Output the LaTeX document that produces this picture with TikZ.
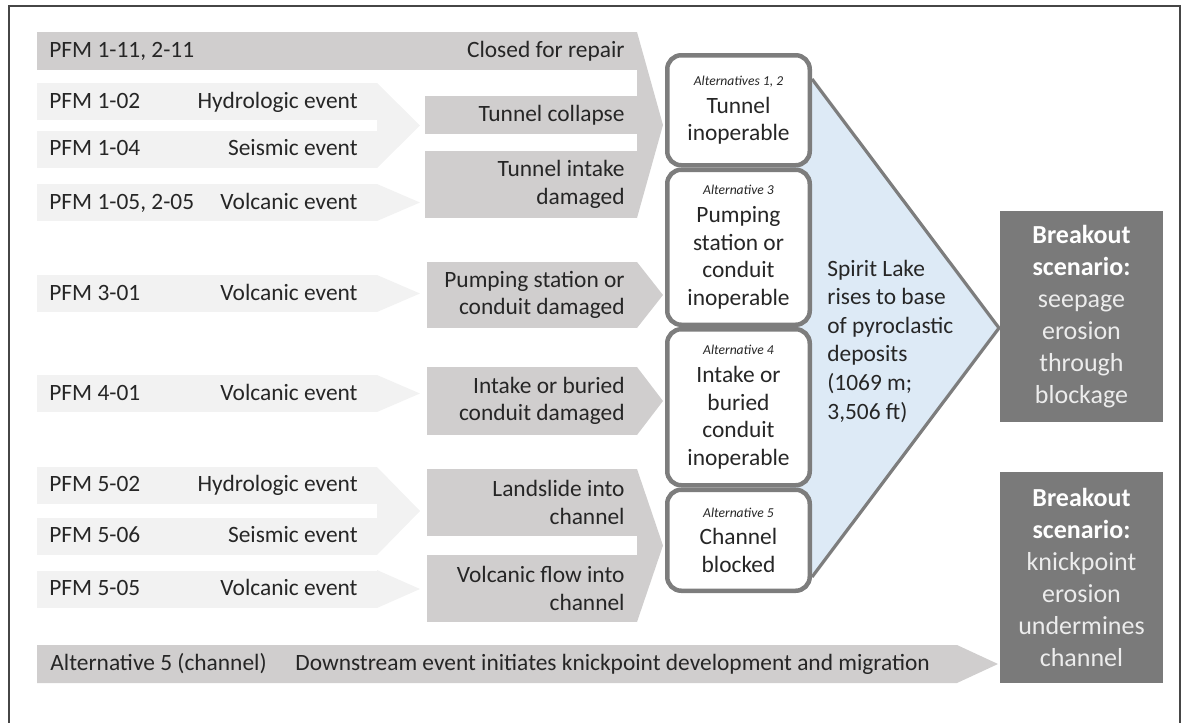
\documentclass[tikz,border=0pt]{standalone}
\usepackage{fontspec}
\setmainfont{Carlito}
\usepackage{tikz}
\usetikzlibrary{positioning}

\definecolor{palefill}{RGB}{242,242,242}
\definecolor{barfill}{RGB}{208,206,206}
\definecolor{boxedge}{RGB}{125,125,125}
\definecolor{lakefill}{RGB}{221,234,246}
\definecolor{outfill}{RGB}{122,122,122}
\definecolor{outtext}{RGB}{236,236,236}
\definecolor{framegray}{RGB}{70,70,70}

\newcommand{\altname}[1]{{\fontsize{6.8}{8}\selectfont\itshape #1}}
\newcommand{\outhead}[1]{{\bfseries\color{white}#1}}

\tikzset{
  lbl/.style={inner sep=0pt, text=black!85, font=\fontsize{11.7}{13.8}\selectfont},
  rowlbl/.style={lbl, text height=8pt, text depth=1.5pt},
  altbox/.style={lbl, draw=boxedge, line width=2.25pt, rounded corners=7pt, fill=white, minimum width=71.25pt, align=center},
  outbox/.style={fill=outfill, text=outtext, inner sep=0pt, minimum width=81.5pt, minimum height=105.5pt, align=center, font=\fontsize{13}{16}\selectfont}
}

\begin{document}
\begin{tikzpicture}[x=.5pt,y=-.5pt]
\useasboundingbox (0,0) rectangle (1185,723);
\draw[framegray, line width=.75pt] (9,723) -- (9,6) -- (1180,6) -- (1180,723);

% failure modes and their triggering events
\foreach \yc/\pfm/\ev [count=\i] in {101.5/PFM 1-02/Hydrologic event, 149/PFM 1-04/Seismic event,
   202.5/{PFM 1-05, 2-05}/Volcanic event, 293.5/PFM 3-01/Volcanic event, 393.5/PFM 4-01/Volcanic event,
   485/PFM 5-02/Hydrologic event, 536/PFM 5-06/Seismic event, 589/PFM 5-05/Volcanic event} {
 \fill[palefill] (37,\yc-18.5) rectangle (377,\yc+18.5);
 \node[rowlbl, anchor=west] (pfm\i) at (49,\yc) {\pfm};
 \node[rowlbl, anchor=east] (ev\i) at (358,\yc) {\ev};
}
\foreach \ya/\yb in {83/168, 184/221, 275/312, 375/412, 467/555, 570/608}
 \fill[palefill] (377,\ya) -- (420,{(\ya+\yb)/2}) -- (377,\yb) -- cycle;

% damage states
\fill[barfill] (37,32) rectangle (637,70);
\fill[barfill] (425,96) rectangle (637,134);
\fill[barfill] (425,151) rectangle (637,218);
\fill[barfill] (427,262) rectangle (637,328);
\fill[barfill] (427,367) rectangle (637,435);
\fill[barfill] (427,469) rectangle (637,536);
\fill[barfill] (427,555) rectangle (637,622);
\foreach \ya/\yb in {32/218, 262/328, 367/435, 469/622}
 \fill[barfill] (637,\ya) -- (663,{(\ya+\yb)/2}) -- (637,\yb) -- cycle;
\fill[barfill] (37,645) rectangle (957,683) (957,645) -- (998,664) -- (957,683) -- cycle;

\node[rowlbl, anchor=west] (pfmtop) at (49,51) {PFM 1-11, 2-11};
\node[rowlbl, anchor=east] (repair) at (625,51) {Closed for repair};
\node[rowlbl, anchor=east] (collapse) at (625,115) {Tunnel collapse};
\node[lbl, anchor=east, align=right] (intake) at (625,184.5) {Tunnel intake\\damaged};
\node[lbl, anchor=east, align=right] (pumpdmg) at (625,295) {Pumping station or\\conduit damaged};
\node[lbl, anchor=east, align=right] (buried) at (625,401) {Intake or buried\\conduit damaged};
\node[lbl, anchor=east, align=right] (slide) at (625,502.5) {Landslide into\\channel};
\node[lbl, anchor=east, align=right] (flow) at (625,588.5) {Volcanic flow into\\channel};
\node[rowlbl, anchor=west] (chan) at (50,664) {Alternative 5 (channel)};
\node[rowlbl, anchor=west] (downstream) at (295,664) {Downstream event initiates knickpoint development and migration};

% lake level wedge
\fill[lakefill] (790,83) -- (815,83) -- (999,328) -- (815,573) -- (790,573) -- cycle;
\draw[boxedge, line width=1.6pt, line join=round] (812,79) -- (999,328) -- (812,577);
\node[lbl, anchor=west, align=left, font=\fontsize{11.7}{14.3}\selectfont] (lake) at (827,341)
 {Spirit Lake\\rises to base\\of pyroclastic\\deposits\\(1069 m;\\3,506 ft)};

% alternatives
\node[altbox, minimum height=55pt] (alt1) at (738.5,110.25) {\altname{Alternatives 1, 2}\\Tunnel\\inoperable};
\node[altbox, minimum height=77.5pt, below=0pt of alt1] (alt2) {\altname{Alternative 3}\\Pumping\\station or\\conduit\\inoperable};
\node[altbox, minimum height=78pt, below=0pt of alt2] (alt3) {\altname{Alternative 4}\\Intake or\\buried\\conduit\\inoperable};
\node[altbox, minimum height=50.5pt, below=0pt of alt3] (alt4) {\altname{Alternative 5}\\Channel\\blocked};

% breakout scenarios
\node[outbox] (out1) at (1081.5,316.5) {\outhead{Breakout}\\\outhead{scenario:}\\seepage\\erosion\\through\\blockage};
\node[outbox] (out2) at (1081.5,577.5) {\outhead{Breakout}\\\outhead{scenario:}\\knickpoint\\erosion\\undermines\\channel};
\end{tikzpicture}
\end{document}
